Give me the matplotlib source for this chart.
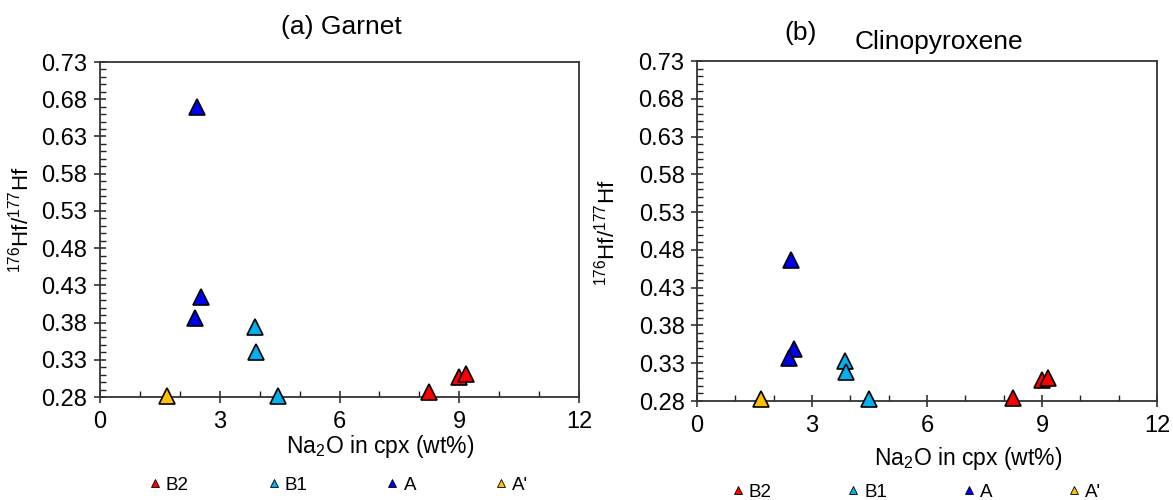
import matplotlib
matplotlib.use("Agg")
import matplotlib.pyplot as plt
from matplotlib.lines import Line2D
from matplotlib.ticker import MultipleLocator, FormatStrFormatter

plt.rcParams['font.family'] = ['Liberation Sans', 'DejaVu Sans']
plt.rcParams['mathtext.fontset'] = 'custom'
plt.rcParams['mathtext.rm'] = 'Liberation Sans'
plt.rcParams['mathtext.it'] = 'Liberation Sans:italic'

# groups and colours
groups = ["B2", "B1", "A", "A'"]
colors = {"B2": "#FF0000", "B1": "#00B0F0", "A": "#0000F0", "A'": "#FFC000"}

# (a) garnet
grt_x = {"B2": [8.24, 9.0, 9.17], "B1": [3.88, 3.9, 4.46], "A": [2.42, 2.53, 2.38], "A'": [1.68]}
grt_y = {"B2": [0.287, 0.307, 0.311], "B1": [0.374, 0.341, 0.282], "A": [0.669, 0.414, 0.386], "A'": [0.282]}

# (b) clinopyroxene
cpx_x = {"B2": [8.24, 9.01, 9.16], "B1": [3.86, 3.88, 4.48], "A": [2.44, 2.52, 2.40], "A'": [1.67]}
cpx_y = {"B2": [0.284, 0.308, 0.311], "B1": [0.333, 0.318, 0.282], "A": [0.466, 0.349, 0.337], "A'": [0.282]}

fig = plt.figure(figsize=(11.73, 5), dpi=100)
ax1 = fig.add_axes([100/1173, 1-397/500, 479/1173, 335/500])
ax2 = fig.add_axes([697/1173, 1-401/500, 460/1173, 340/500])


def style_axes(ax):
    ax.set_xlim(0, 12)
    ax.set_ylim(0.28, 0.73)
    ax.xaxis.set_major_locator(MultipleLocator(3))
    ax.xaxis.set_minor_locator(MultipleLocator(1))
    ax.yaxis.set_major_locator(MultipleLocator(0.05, offset=0.03))
    ax.yaxis.set_minor_locator(MultipleLocator(0.01))
    ax.yaxis.set_major_formatter(FormatStrFormatter('%.2f'))
    ax.tick_params(axis='both', which='major', direction='inout', length=8, width=1.1,
                   labelsize=17, color='#222222')
    ax.tick_params(axis='both', which='minor', direction='in', length=4, width=1.0, color='#222222')
    ax.tick_params(axis='x', which='major', pad=6)
    ax.tick_params(axis='y', which='major', pad=5)
    for s in ax.spines.values():
        s.set_color('#333333')
        s.set_linewidth(1.3)


def draw(ax, xs, ys):
    for g in groups:
        ax.plot(xs[g], ys[g], linestyle='none', marker='^', markersize=11,
                markerfacecolor=colors[g], markeredgecolor='black', markeredgewidth=1.2,
                clip_on=False, zorder=5)


def add_legend(x0, x1, yc):
    handles = [Line2D([], [], linestyle='none', marker='^', markersize=6,
                      markerfacecolor=colors[g], markeredgecolor='black', markeredgewidth=0.6)
               for g in groups]
    fig.legend(handles, groups, loc='center', ncol=4, frameon=False, mode='expand',
               bbox_to_anchor=(x0/1173, yc/500 - 0.03, (x1-x0)/1173, 0.06),
               bbox_transform=fig.transFigure, fontsize=13.5,
               handlelength=0.7, handletextpad=0.25, borderaxespad=0, borderpad=0)


style_axes(ax1)
style_axes(ax2)
draw(ax1, grt_x, grt_y)
draw(ax2, cpx_x, cpx_y)

ylab = r"$^{176}$Hf/$^{177}$Hf"
xlab = r"Na$_2$O in cpx (wt%)"

fig.text(341/1173, 1-27/500, "(a) Garnet", ha='center', va='center', fontsize=19)
fig.text(801/1173, 1-33/500, "(b)", ha='center', va='center', fontsize=19)
fig.text(939/1173, 1-42/500, "Clinopyroxene", ha='center', va='center', fontsize=19)

fig.text(380/1173, 1-447/500, xlab, ha='center', va='center', fontsize=16.5)
fig.text(968/1173, 1-459/500, xlab, ha='center', va='center', fontsize=16.5)
fig.text(21/1173, 1-220/500, ylab, ha='center', va='center', rotation=90, fontsize=16)
fig.text(607/1173, 1-233/500, ylab, ha='center', va='center', rotation=90, fontsize=16)

add_legend(148, 528, 500-485)
add_legend(731, 1101, 500-492)

fig.savefig("out.png", dpi=100)
